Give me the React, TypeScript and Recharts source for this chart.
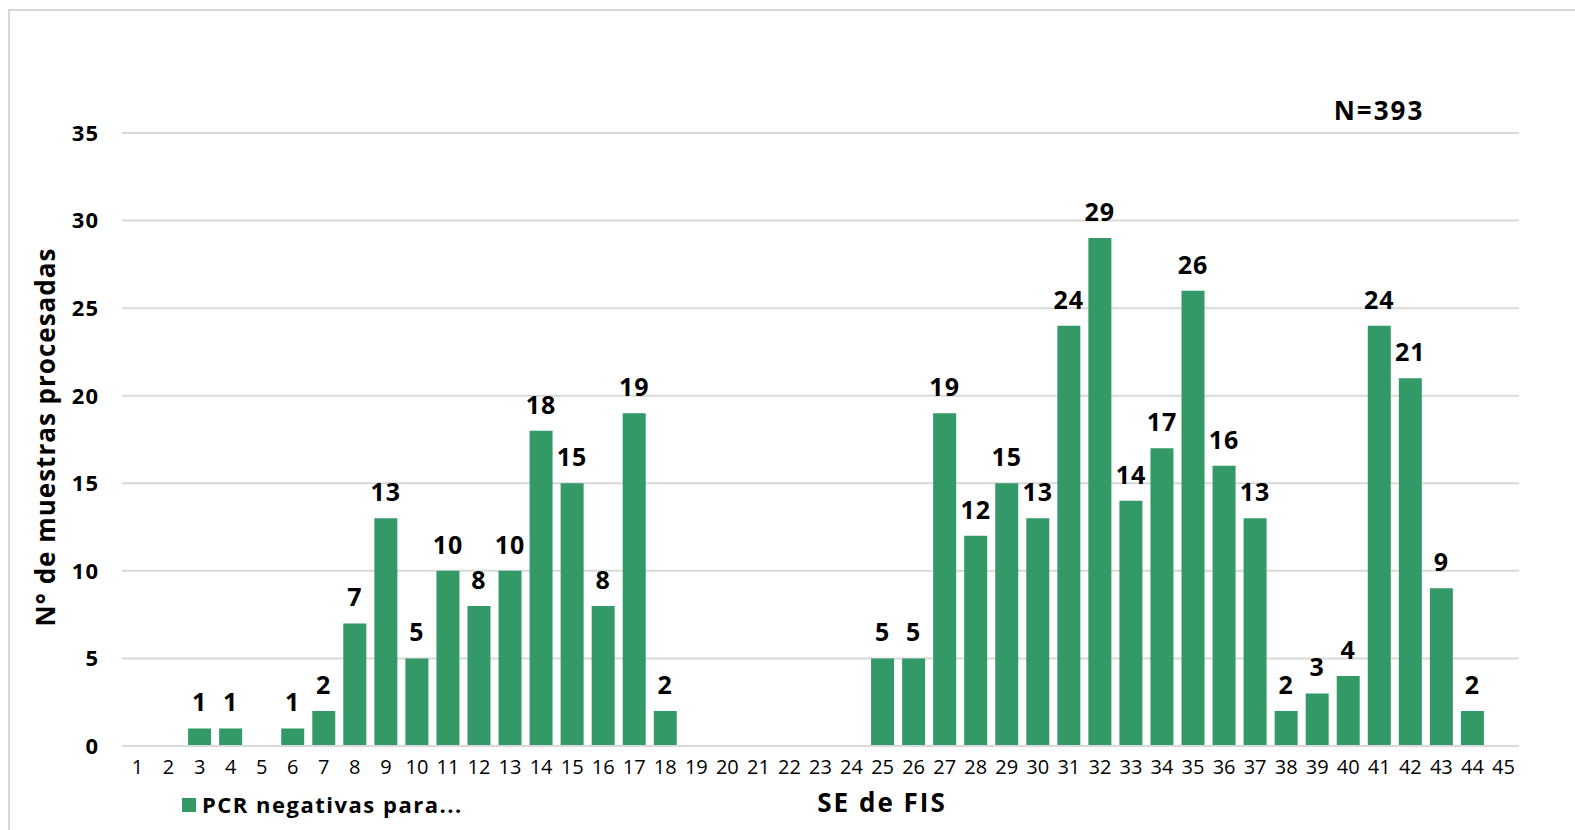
import { BarChart, Bar, XAxis, YAxis, CartesianGrid, LabelList } from 'recharts'

const weeks = [
  '1', '2', '3', '4', '5', '6', '7', '8', '9', '10', '11', '12', '13', '14', '15',
  '16', '17', '18', '19', '20', '21', '22', '23', '24', '25', '26', '27', '28', '29', '30',
  '31', '32', '33', '34', '35', '36', '37', '38', '39', '40', '41', '42', '43', '44', '45',
]
const negatives = [
  0, 0, 1, 1, 0, 1, 2, 7, 13, 5, 10, 8, 10, 18, 15,
  8, 19, 2, 0, 0, 0, 0, 0, 0, 5, 5, 19, 12, 15, 13,
  24, 29, 14, 17, 26, 16, 13, 2, 3, 4, 24, 21, 9, 2, 0,
]
const yTicks = [0, 5, 10, 15, 20, 25, 30, 35]
const seriesName = 'PCR negativas para...'
const totalLabel = 'N=393'
const xTitle = 'SE de FIS'
const yTitle = 'N° de muestras procesadas'

const font = '"Open Sans", sans-serif'
const green = '#339966'
const gridColor = '#d9d9d9'

const data = weeks.map((w, i) => ({ week: w, value: negatives[i] }))

export default function App() {
  return (
    <div style={{ position: 'absolute', left: 0, top: 0, width: 1575, height: 830, overflow: 'hidden', background: '#fff', fontFamily: font }}>
      <div style={{ position: 'absolute', left: 8, top: 9, right: 0, bottom: 0, borderTop: '2px solid #d6d6d6', borderLeft: '2px solid #d6d6d6' }} />
      <BarChart
        width={1575}
        height={830}
        data={data}
        margin={{ top: 133, right: 56, bottom: 54, left: 62 }}
        style={{ position: 'absolute', left: 0, top: 0 }}
      >
        <CartesianGrid vertical={false} stroke={gridColor} strokeWidth={2} />
        <YAxis
          width={60}
          domain={[0, 35]}
          ticks={yTicks}
          interval={0}
          axisLine={false}
          tickLine={false}
          tickSize={0}
          tickMargin={23}
          tick={{ fill: '#000', fontSize: 22, fontWeight: 700, fontFamily: font, letterSpacing: 1 }}
        />
        <XAxis
          dataKey="week"
          height={30}
          interval={0}
          axisLine={{ stroke: gridColor, strokeWidth: 2 }}
          tickLine={false}
          tickSize={0}
          tickMargin={14}
          tick={{ fill: '#000', fontSize: 20, fontFamily: font }}
        />
        <Bar dataKey="value" name={seriesName} fill={green} barSize={23} isAnimationActive={false}>
          <LabelList
            dataKey="value"
            position="top"
            offset={17}
            formatter={(v: number) => (v ? v : '')}
            style={{ fill: '#000', fontSize: 25, fontWeight: 700, fontFamily: font, letterSpacing: 1 }}
          />
        </Bar>
      </BarChart>
      <svg width={1575} height={830} style={{ position: 'absolute', left: 0, top: 0, pointerEvents: 'none' }}>
        <text x={1379} y={120} textAnchor="middle" fontSize={26} fontWeight={700} fontFamily={font} letterSpacing={2} fill="#000">
          {totalLabel}
        </text>
        <text
          x={0}
          y={0}
          transform="translate(55, 437) rotate(-90)"
          textAnchor="middle"
          fontSize={26}
          fontWeight={700}
          fontFamily={font}
          letterSpacing={1}
          fill="#000"
        >
          {yTitle}
        </text>
        <text x={882} y={812} textAnchor="middle" fontSize={26} fontWeight={700} fontFamily={font} letterSpacing={2} fill="#000">
          {xTitle}
        </text>
        <rect x={182} y={798} width={14} height={14} fill={green} />
        <text x={202} y={813} fontSize={22} fontWeight={700} fontFamily={font} letterSpacing={1.5} fill="#000">
          {seriesName}
        </text>
      </svg>
    </div>
  )
}
